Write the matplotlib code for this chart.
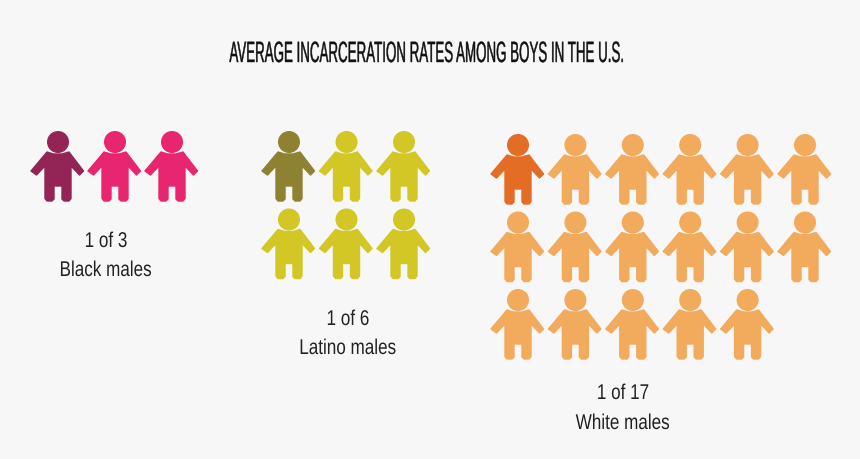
import matplotlib
matplotlib.use("Agg")
import matplotlib.pyplot as plt
import matplotlib.patheffects as pe
from matplotlib.path import Path
from matplotlib.transforms import Affine2D

TITLE = "AVERAGE INCARCERATION RATES AMONG BOYS IN THE U.S."
groups = ["Black males", "Latino males", "White males"]
rates = ["1 of 3", "1 of 6", "1 of 17"]
totals = [3, 6, 17]
per_row = [3, 3, 6]
highlighted = [1, 1, 1]
dark_colors = ["#922555", "#8e8232", "#e36d25"]
light_colors = ["#e8256f", "#d2c725", "#f2aa5c"]

# layout (pixels, y downward)
origins = [(58, 143), (289, 143), (518, 146)]
pitch_x = [57, 57.5, 57.4]
pitch_y = 77.5
label_x = [106, 348, 623]
rate_y = [248, 326, 400]
name_y = [277, 355, 430]

# pictogram silhouette, relative to head centre, y up
_b = [(-11, -10), (-4.5, -12), (4, -12), (11, -10), (25.5, -29), (21.5, -33),
      (13, -24), (13, -56.5), (11, -59), (6, -59), (4, -57), (4, -44), (-4, -44),
      (-4, -57), (-6, -59), (-11, -59), (-13, -56.5), (-13, -24), (-21.5, -33),
      (-27, -29)]
body = Path(_b + [_b[0]], closed=True)
head = Path.circle((0, 0), 10.3)
person = Path.make_compound_path(head, body)
S = (59 * 2 * 0.72) ** 2


class VStretch(pe.AbstractPathEffect):
    def __init__(self, sy, stroke=0.0):
        super().__init__()
        self.sy = sy
        self.stroke = stroke

    def draw_path(self, renderer, gc, tpath, affine, rgbFace=None):
        gc0 = renderer.new_gc()
        gc0.copy_properties(gc)
        if self.stroke and rgbFace is not None:
            gc0.set_linewidth(self.stroke)
            gc0.set_foreground(rgbFace)
        renderer.draw_path(gc0, tpath, Affine2D().scale(1, self.sy) + affine, rgbFace)
        gc0.restore()


BG = "#f7f7f7"
INK = "#222222"
NARROW = ["Liberation Sans Narrow", "Liberation Sans", "DejaVu Sans"]

fig = plt.figure(figsize=(8.6, 4.6), dpi=100, facecolor=BG)
ax = fig.add_axes([0, 0, 1, 1])
ax.set_xlim(0, 860)
ax.set_ylim(460, 0)
ax.axis("off")

for i in range(len(groups)):
    xs, ys, cs = [], [], []
    for k in range(totals[i]):
        r, c = divmod(k, per_row[i])
        xs.append(origins[i][0] + c * pitch_x[i])
        ys.append(origins[i][1] + r * pitch_y)
        cs.append(dark_colors[i] if k < highlighted[i] else light_colors[i])
    ax.scatter(xs, ys, s=S, marker=person, c=cs, edgecolors=cs, linewidths=1.0)
    ax.text(label_x[i], rate_y[i], rates[i], ha="center", va="baseline",
            fontsize=12.3, color=INK, family=NARROW,
            path_effects=[VStretch(1.25)])
    ax.text(label_x[i], name_y[i], groups[i], ha="center", va="baseline",
            fontsize=12.3, color=INK, family=NARROW,
            path_effects=[VStretch(1.25)])

ax.text(428, 63, TITLE, ha="center", va="baseline", fontsize=9.6,
        color="#111111", family=NARROW,
        path_effects=[VStretch(2.2, stroke=0.3)])

fig.savefig("out.png", dpi=100, facecolor=BG)
